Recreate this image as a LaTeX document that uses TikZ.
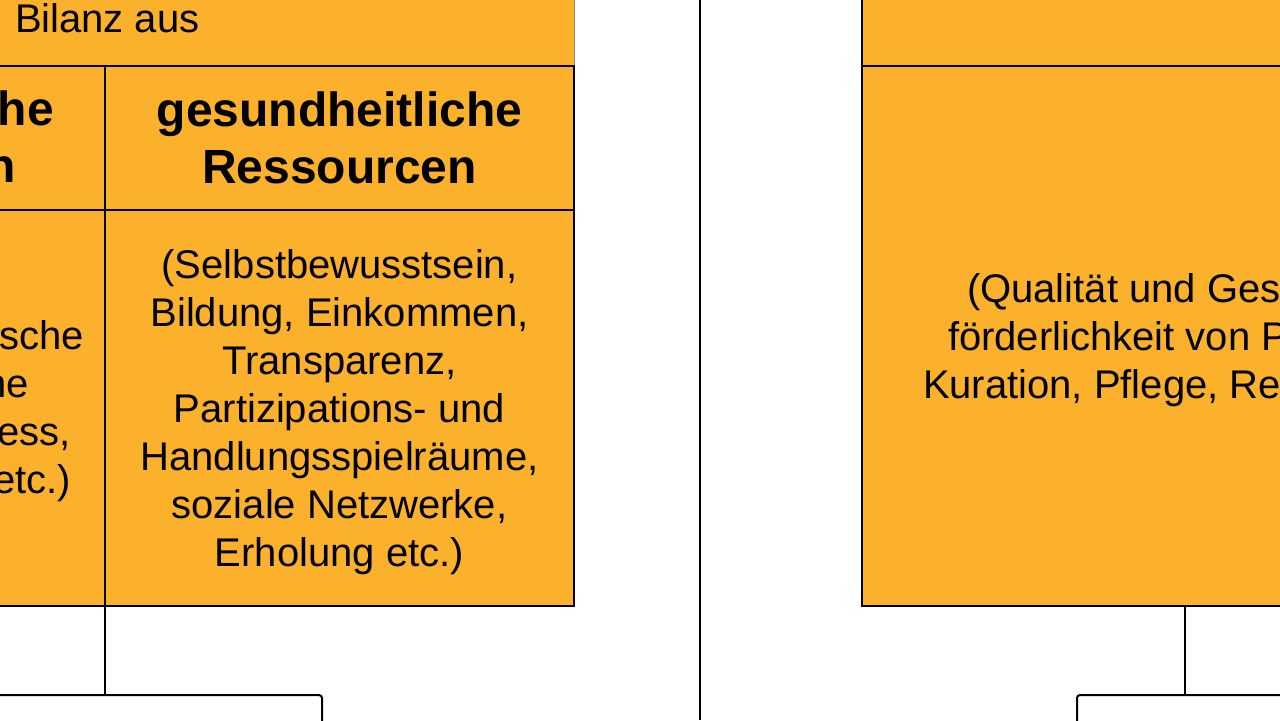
\documentclass[tikz,border=0pt]{standalone}
\usepackage{fontspec}
\setmainfont{Liberation Sans}
\usetikzlibrary{positioning}
\definecolor{bilanzorange}{HTML}{FBB12B}

\begin{document}
\begin{tikzpicture}[
		x=0.5pt, y=-0.5pt,
		every node/.style={font=\fontsize{20}{24}\selectfont, inner sep=0pt, outer sep=0pt},
		cell/.style={draw, line width=1pt, fill=bilanzorange, align=center},
		kopf/.style={font=\bfseries\fontsize{24}{28.5}\selectfont, align=center},
		fuss/.style={draw, line width=1pt, fill=white, rounded corners=1.5pt},
		link/.style={line width=1pt}
		]
		\useasboundingbox (0,0) rectangle (1280,720);
		\clip (0,0) rectangle (1280,720);

		% linke Spalte
		\node[cell, draw=black!45, line width=0.4pt, minimum width=487pt, minimum height=63pt, anchor=south east] (bilanz) at (574,66) {};
		\node[anchor=west] (bilanzText) at (15,18) {Bilanz aus};
		\node[cell, kopf, minimum width=234.5pt, minimum height=72pt, anchor=north east] (gesKopf) at (574,66) {gesundheitliche\\Ressourcen};
		\node[cell, minimum width=234.5pt, minimum height=198pt, below=0pt of gesKopf] (gesText) {};
		\node[align=center, yshift=-2pt] (gesInhalt) at (gesText.center) {(Selbstbewusstsein,\\Bildung, Einkommen,\\Transparenz,\\Partizipations- und\\Handlungsspielräume,\\soziale Netzwerke,\\Erholung etc.)};
		\node[cell, minimum width=252.5pt, minimum height=72pt, left=0pt of gesKopf] (linksKopf) {};
		\node[cell, minimum width=252.5pt, minimum height=198pt, left=0pt of gesText] (linksText) {};
		\node[kopf, align=right, anchor=east] (linksKopfText) at (54,137) {he\\n\hspace*{19pt}\mbox{}};
		\node[align=right, anchor=east] (linksTextRest) at (84,411) {sche\\he\hspace*{27.5pt}\mbox{}\\ess,\hspace*{6.5pt}\mbox{}\\etc.)\hspace*{6.5pt}\mbox{}};
		\node[fuss, minimum width=217pt, minimum height=102.5pt, anchor=north] (linksUnten) at (105,695) {};
		\draw[link] (gesText.south west) -- (linksUnten.north);

		% Trennlinie
		\coordinate (trennOben) at (700,0);
		\coordinate (trennUnten) at (700,720);
		\draw[line width=1.2pt] (trennOben) -- (trennUnten);

		% rechte Spalte
		\node[cell, minimum width=419pt, minimum height=270pt, anchor=north west] (qualText) at (862,66) {};
		\node[cell, minimum width=419pt, minimum height=63pt, above=0pt of qualText] (qualKopf) {};
		\node[align=left, anchor=west] (qualTextRest) at (923,340) {\hspace*{22pt}(Qualität und Ges\\\hspace*{12.5pt}förderlichkeit von P\\Kuration, Pflege, Re};
		\node[fuss, minimum width=108pt, minimum height=102.5pt, anchor=north] (qualUnten) at (1185,695) {};
		\draw[link] (qualUnten.north |- qualText.south) -- (qualUnten.north);
\end{tikzpicture}
\end{document}
